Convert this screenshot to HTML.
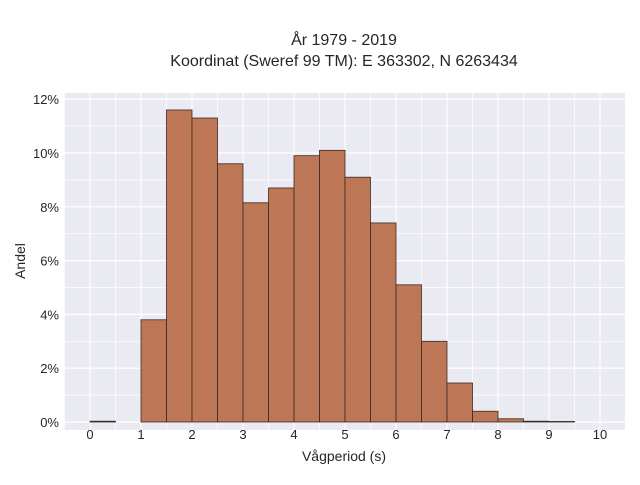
<!DOCTYPE html>
<html><head><meta charset="utf-8"><style>
body{margin:0;background:#fff;}
svg text{font-family:"Liberation Sans",sans-serif;fill:#262626;}
</style></head><body>
<svg width="640" height="480" xmlns="http://www.w3.org/2000/svg">
<rect x="64" y="93" width="561" height="337" fill="#eaeaf2"/>
<g id="grid"></g>
<g id="bars"></g>
<g id="ticks"></g>
<text x="344" y="45" text-anchor="middle" font-size="16">År 1979 - 2019</text>
<text x="344" y="66" text-anchor="middle" font-size="16">Koordinat (Sweref 99 TM): E 363302, N 6263434</text>
<text x="344" y="461" text-anchor="middle" font-size="14">Vågperiod (s)</text>
<text x="25" y="261" text-anchor="middle" font-size="14" transform="rotate(-90 25 261)">Andel</text>
</svg>
<script>
const binStarts=[0,0.5,1,1.5,2,2.5,3,3.5,4,4.5,5,5.5,6,6.5,7,7.5,8,8.5,9,9.5];
const shares=[0.03,0,3.8,11.6,11.3,9.6,8.15,8.7,9.9,10.1,9.1,7.4,5.1,3.0,1.45,0.4,0.12,0.03,0.02,0];
const xTicks=[0,1,2,3,4,5,6,7,8,9,10];
const yTicks=[0,2,4,6,8,10,12];
const binWidth=0.5;
const X=v=>90+v*51.0;
const Y=v=>422-v*26.9;
const NS="http://www.w3.org/2000/svg";
const grid=document.getElementById('grid'),bars=document.getElementById('bars'),ticks=document.getElementById('ticks');
function mk(tag,attrs,parent){const e=document.createElementNS(NS,tag);for(const k in attrs)e.setAttribute(k,attrs[k]);parent.appendChild(e);return e;}
for(let v=-0.5;v<=10.5;v+=0.5){const x=X(v);if(x<64||x>625)continue;
const l=mk('line',{x1:x,x2:x,y1:93,y2:430,stroke:'#fff','stroke-width':v%1===0?1.2:0.7},grid);

}
for(let v=0;v<=12.5;v+=1){const y=Y(v);
const l=mk('line',{x1:64,x2:625,y1:y,y2:y,stroke:'#fff','stroke-width':v%2===0?1.2:0.7},grid);

}
binStarts.forEach((s,i)=>{if(shares[i]<=0)return;
const r=mk('rect',{x:X(s),y:Y(shares[i]),width:X(s+binWidth)-X(s),height:Y(0)-Y(shares[i]),fill:'#b86a45','fill-opacity':0.9,stroke:'#3a2a22','stroke-width':0.8},bars);

});
xTicks.forEach(v=>{const t=mk('text',{x:X(v),y:439,'text-anchor':'middle','font-size':13},ticks);t.textContent=v;

});
yTicks.forEach(v=>{const t=mk('text',{x:59,y:Y(v)+5,'text-anchor':'end','font-size':13},ticks);t.textContent=v+'%';

});
</script>
</body></html>
